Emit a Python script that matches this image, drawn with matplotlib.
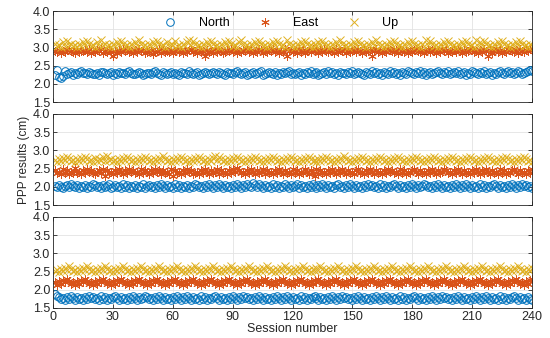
import numpy as np
import matplotlib.pyplot as plt

plt.rcParams['font.family'] = ['Liberation Sans', 'DejaVu Sans']

# session-by-session deviations: digit d -> (d - 5) * 0.03 cm
north_top = ("3810274563 5467554654 4536654563 5465546754 4565345546 7543654564 "
             "5436554754 5634565456 5465436554 6754563456 4567345654 6354656745 "
             "4563546574 5634564756 4536554657 4565436547 5645365475 6453654765 "
             "4657463564 5675465745 6574563547 6546574563 5467546756 4576456787")
east_top = ("5463546754 3645564735 4657354641 5364756453 6475634562 4573645463 "
            "5746354674 5364516453 7465346574 6354657463 5476354657 4635471564 "
            "5374635647 5636475465 3746573645 6475364561 5746354765 4637546354 "
            "6754635746 5364756354 6475364576 4536475163 5746354765 4637546576")
up_top = ("6453748564 5364758645 3749564536 4758645364 7596453647 5864537465 "
          "8453647958 6453647586 4536475864 5379645364 7586453647 5864539645 "
          "3647586453 6475864536 4759645364 7586453647 5964536475 8645364758 "
          "6453649586 4536475864 5364758645 3947586453 6475864536 4758645364")
north_mid = ("5464356475 4635463547 6453645734 6453746354 6354735645 3647536453 "
             "7463546354 7645364753 6475364536 4753647548 6475364537 4635475364 "
             "5736453647 5364753645 3674536475 3645364756 4537463546 7536453647 "
             "5364576453 6475364536 4753647536 4537463546 7536453647 5364756453")
east_mid = ("6453746354 8453647564 3564716453 6475364756 4537465364 7563645371 "
            "6453647563 4536475364 5736453647 5864536475 3645736453 6475364537 "
            "4635475364 1736453647 5364753645 3674536475 3645364756 4537463546 "
            "7536453647 5364576453 6475364536 4753647536 4537463546 7536453647")
up_mid = ("5364758645 3647586453 7465849564 5364758645 3647586453 6475964536 "
          "4758645364 7586453647 9586453647 5864536475 8645364758 6453647586 "
          "4536475864 5364758645 3647596453 6475864536 4758645364 7586453647 "
          "5864536475 8645364758 6453647586 4536475864 5364758645 3647586453")
north_bot = ("8764536475 3645364756 4537463546 7536453647 5364576453 6475364536 "
             "4753647536 4537463546 7536453647 5364756453 6475364536 4753647536 "
             "4537463546 7536453647 5364756453 6475364536 4753647536 4537463546 "
             "7536453647 5364756453 6475364536 4753647536 4537463546 7536453643")
east_bot = ("5364758645 3647586453 6475864536 4758645364 7586453647 5864536475 "
            "8645364758 6453647586 4536475864 5364758645 3647586453 6475864536 "
            "4758645364 7586453647 5864536475 8645364758 6453647586 4536475864 "
            "5364758645 3647586453 6475864536 4758645364 7586453647 5864536478")
up_bot = ("4536475864 5364758645 3647586453 6475864536 4758645364 7586453647 "
          "5864536475 8645364758 6453647586 4536475864 5364758645 3647586453 "
          "6475864536 4758645364 7586453647 5864536475 8645364758 6453647586 "
          "4536475864 5364758645 3647586453 6475864536 4758645364 7586453647")

base_levels = [(2.30, 2.90, 3.08), (2.02, 2.42, 2.74), (1.78, 2.20, 2.55)]
panels = [(north_top, east_top, up_top),
          (north_mid, east_mid, up_mid),
          (north_bot, east_bot, up_bot)]


def decode(s, base):
    d = np.array([int(c) for c in s.replace(" ", "")])
    return base + (d - 5) * 0.03


fig = plt.figure(figsize=(5.5, 3.38), dpi=100)
rects = [[0.0964, 0.698, 0.871, 0.269],
         [0.0964, 0.393, 0.871, 0.270],
         [0.0964, 0.089, 0.871, 0.269]]

for k, (rect, series, bases) in enumerate(zip(rects, panels, base_levels)):
    ax = fig.add_axes(rect)
    n = decode(series[0], bases[0])
    e = decode(series[1], bases[1])
    u = decode(series[2], bases[2])
    ax.plot(np.arange(1, len(n) + 1), n, 'o', ms=5.5, mfc='none', mec='#0072BD',
            mew=0.7, label='North')
    ax.plot(np.arange(1, len(e) + 1), e, ls='none', marker=(6, 2, 0), ms=6,
            mec='#D95319', mew=0.7, label='East')
    ax.plot(np.arange(1, len(u) + 1), u, 'x', ms=6, mec='#E0B020', mew=0.7, label='Up')
    ax.set_xlim(0, 240)
    ax.set_ylim(1.5, 4.0)
    ax.set_xticks(np.arange(0, 241, 30))
    ax.set_yticks(np.arange(1.5, 4.01, 0.5))
    ax.grid(True, color='#e3e3e3', lw=0.6)
    ax.set_axisbelow(True)
    ax.tick_params(direction='in', top=True, right=True, length=3, width=0.6,
                   labelsize=9, colors='#262626', pad=2)
    for sp in ax.spines.values():
        sp.set_color('#262626')
        sp.set_linewidth(0.6)
    if k < 2:
        ax.set_xticklabels([])
    else:
        ax.set_xlabel('Session number', fontsize=9, color='#262626', labelpad=0)
    if k == 1:
        ax.set_ylabel('PPP results (cm)', fontsize=8.5, color='#262626', labelpad=2)
    if k == 0:
        ax.legend(loc='center', bbox_to_anchor=(0.47, 0.87), ncol=3, frameon=False,
                  fontsize=9, handletextpad=1.3, columnspacing=1.8, markerscale=1.0)

fig.savefig('out.png', dpi=100)
